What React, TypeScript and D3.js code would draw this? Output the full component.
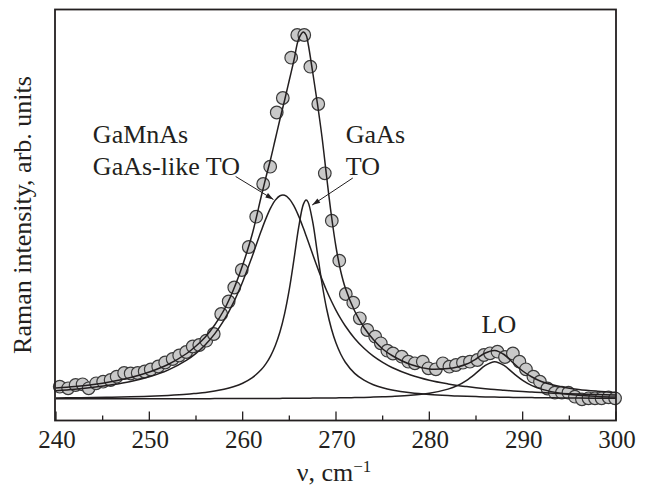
import React from 'react';
import * as d3 from 'd3';

const W = 648;
const H = 487;
const margin = { top: 9.5, right: 32, bottom: 66.5, left: 56 };
const FONT = '"Liberation Serif", "Times New Roman", serif';
const INK = '#231f20';

// measured spectrum (wavenumber, intensity above the common baseline)
const measured = [
  [240.4, 12.3], [241.3, 10.7], [242.1, 14.0], [242.85, 14.7], [243.5, 10.7], [244.3, 15.7],
  [245.05, 17.3], [245.85, 19.0], [246.5, 22.3], [247.3, 26.0], [248.0, 25.5], [248.75, 26.0],
  [249.5, 27.5], [250.15, 29.5], [250.95, 32.5], [251.7, 36.5], [252.5, 40.0], [253.2, 43.5],
  [253.95, 47.0], [254.65, 52.5], [255.35, 54.0], [256.1, 58.3], [256.9, 65.0], [257.7, 85.0],
  [258.5, 97.5], [259.1, 111.5], [259.9, 129.0], [260.65, 152.0], [261.45, 182.3], [262.2, 215.0],
  [262.95, 232.3], [263.65, 286.5], [264.3, 301.0], [265.2, 341.3], [265.85, 364.0], [266.6, 364.0],
  [267.25, 332.3], [268.1, 295.0], [268.8, 225.7], [269.55, 178.3], [270.35, 138.3], [271.05, 105.0],
  [271.85, 96.3], [272.55, 80.7], [273.35, 69.0], [274.2, 62.3], [274.8, 55.7], [275.5, 48.3],
  [276.1, 45.5], [277.05, 42.3], [277.75, 37.3], [278.45, 35.7], [279.3, 37.3], [279.9, 30.7],
  [280.7, 29.7], [281.45, 35.7], [282.15, 32.3], [282.85, 34.0], [283.6, 36.3], [284.35, 37.3],
  [285.15, 39.0], [285.85, 44.0], [286.5, 45.7], [287.3, 47.3], [288.1, 42.0], [288.95, 45.5],
  [289.65, 37.3], [290.35, 29.7], [291.15, 22.3], [291.85, 17.3], [292.65, 10.5], [293.45, 6.3],
  [294.2, 6.3], [294.9, 6.3], [295.6, 2.3], [296.35, -0.3], [297.05, 0.7], [297.75, 0.7],
  [298.45, 0.7], [299.2, 1.7], [299.9, 0.7],
];

// wavenumber grid the fitted curves were read on
const fitGrid = [
  240, 242, 244, 246, 248, 250, 252, 254, 255, 256, 257, 258, 259, 260, 261, 262, 262.5, 263,
  263.5, 264, 264.5, 265, 265.5, 266, 266.5, 266.8, 267, 267.5, 268, 268.5, 269, 269.5, 270,
  270.5, 271, 272, 273, 274, 275, 276, 278, 280, 282, 283, 284, 285, 286, 287, 288, 289, 290,
  291, 292, 294, 296, 298, 300,
];

const fitTotal = [
  11.0, 12.5, 14.5, 17.5, 21.5, 27.0, 34.5, 45.5, 53.0, 62.0, 74.0, 89.0, 109.0, 134.0, 164.0,
  203.0, 222.0, 240.0, 260.0, 280.0, 299.0, 319.0, 339.0, 360.0, 367.0, 364.0, 356.0, 327.0,
  296.0, 262.0, 222.0, 184.0, 152.0, 128.0, 111.0, 88.0, 71.5, 59.5, 50.0, 43.5, 34.5, 30.0,
  30.5, 32.0, 35.0, 40.0, 46.0, 48.5, 44.5, 36.0, 28.0, 22.0, 17.5, 12.5, 9.6, 7.8, 6.5,
];

// GaMnAs GaAs-like TO component
const gamnasTO = [
  8.3, 9.8, 11.7, 14.2, 17.5, 22.2, 28.9, 38.9, 45.7, 54.3, 65.1, 78.8, 96.1, 117.3, 142.1,
  168.4, 180.6, 191.1, 198.9, 203.3, 203.7, 200.1, 192.9, 182.9, 170.9, 163.2, 157.9, 144.7,
  131.8, 119.6, 108.3, 98.0, 88.7, 80.4, 73.0, 60.5, 50.7, 42.8, 36.6, 31.5, 24.0, 18.8, 15.1,
  13.6, 12.4, 11.3, 10.3, 9.4, 8.7, 8.0, 7.4, 6.9, 6.4, 5.6, 5.0, 4.4, 3.9,
];

// GaAs TO component
const gaasTO = [
  1.1, 1.3, 1.5, 1.8, 2.2, 2.8, 3.6, 4.7, 5.6, 6.6, 8.0, 9.8, 12.3, 15.8, 21.1, 29.4, 35.4,
  43.2, 53.5, 67.2, 85.7, 109.9, 139.9, 171.6, 194.6, 199.0, 197.0, 177.3, 146.3, 115.5, 90.0,
  70.5, 55.9, 45.0, 36.8, 25.6, 18.8, 14.3, 11.2, 9.0, 6.2, 4.5, 3.4, 3.0, 2.7, 2.4, 2.1, 1.9,
  1.8, 1.6, 1.5, 1.4, 1.3, 1.1, 0.9, 0.8, 0.7,
];

// LO component
const loMode = [
  0.2, 0.2, 0.2, 0.2, 0.2, 0.2, 0.3, 0.3, 0.3, 0.3, 0.4, 0.4, 0.4, 0.5, 0.5, 0.5, 0.6, 0.6,
  0.6, 0.6, 0.7, 0.7, 0.7, 0.7, 0.8, 0.8, 0.8, 0.9, 0.9, 1.0, 1.0, 1.1, 1.1, 1.2, 1.3, 1.4,
  1.6, 1.9, 2.2, 2.6, 3.7, 5.8, 9.9, 13.4, 18.7, 25.8, 33.6, 37.3, 33.6, 25.8, 18.7, 13.4, 9.9,
  5.8, 3.7, 2.6, 1.9,
];

const majorTicks = [240, 250, 260, 270, 280, 290, 300];
const minorTicks = [245, 255, 265, 275, 285, 295];

// labels: text, wavenumber, intensity (baseline position)
const labels = [
  { text: 'GaMnAs', x: 243.95, y: 255.7 },
  { text: 'GaAs-like TO', x: 243.95, y: 224 },
  { text: 'GaAs', x: 271.05, y: 255.7 },
  { text: 'TO', x: 271.05, y: 224 },
  { text: 'LO', x: 285.6, y: 65.7 },
];

// arrows: from (x1,y1) to tip (x2,y2)
const arrows = [
  { x1: 259.25, y1: 222.5, x2: 263.3, y2: 199.5 },
  { x1: 271.8, y1: 221, x2: 267.45, y2: 194 },
];

const App = () => {
  const x = d3.scaleLinear().domain([240, 300]).range([margin.left, W - margin.right]);
  const y = d3.scaleLinear().domain([-21.5, 389.5]).range([H - margin.bottom, margin.top]);

  const line = d3.line<number>()
    .x((_, i) => x(fitGrid[i]))
    .y(d => y(d))
    .curve(d3.curveCatmullRom);

  const x0 = x(240) - 1;
  const x1 = x(300);
  const yb = y(-21.5);
  const yt = y(389.5);

  const arrowHead = (a) => {
    const ax = x(a.x2), ay = y(a.y2);
    const dx = ax - x(a.x1), dy = ay - y(a.y1);
    const len = Math.sqrt(dx * dx + dy * dy);
    const ux = dx / len, uy = dy / len;
    const L = 8, hw = 2.6;
    const bx = ax - ux * L, by = ay - uy * L;
    return `M${ax},${ay}L${bx - uy * hw},${by + ux * hw}L${bx + uy * hw},${by - ux * hw}Z`;
  };

  return (
    <svg width={W} height={H} style={{ position: 'absolute', left: 0, top: 0, background: '#fff' }}
      fontFamily={FONT}>
      {/* data points */}
      <g>
        {measured.map((p, i) => (
          <circle key={i} cx={x(p[0])} cy={y(p[1])} r={6.3}
            fill="#c9c9c9" stroke="#3a3a3a" strokeWidth={1.2} />
        ))}
      </g>

      {/* fitted curves */}
      <g fill="none" stroke={INK} strokeWidth={1.5}>
        <path d={line(loMode)} />
        <path d={line(gaasTO)} />
        <path d={line(gamnasTO)} />
        <path d={line(fitTotal)} />
      </g>

      {/* frame */}
      <rect x={x0} y={yt} width={x1 - x0} height={yb - yt} fill="none" stroke={INK} strokeWidth={1.8} />

      {/* ticks */}
      <g stroke={INK} strokeWidth={1.3}>
        {majorTicks.map(t => (
          <line key={'M' + t} x1={x(t)} x2={x(t)} y1={yb} y2={yb - 9} />
        ))}
        {minorTicks.map(t => (
          <line key={'m' + t} x1={x(t)} x2={x(t)} y1={yb} y2={yb - 5} />
        ))}
      </g>
      <g fontSize={25} fill={INK} textAnchor="middle">
        {majorTicks.map(t => (
          <text key={t} x={x(t) + 1} y={448}>{t}</text>
        ))}
      </g>

      {/* axis titles */}
      <text x={334} y={481} fontSize={26} fill={INK} textAnchor="middle">
        <tspan>ν, cm</tspan>
        <tspan fontSize={17} dy={-9}>−1</tspan>
      </text>
      <text transform={`translate(31,${(yt + yb) / 2}) rotate(-90)`} fontSize={26} fill={INK}
        textAnchor="middle">Raman intensity, arb. units</text>

      {/* annotations */}
      <g fontSize={26} fill={INK}>
        {labels.map(l => (
          <text key={l.text} x={x(l.x)} y={y(l.y)}>{l.text}</text>
        ))}
      </g>
      <g>
        {arrows.map((a, i) => (
          <g key={i}>
            <line x1={x(a.x1)} y1={y(a.y1)} x2={x(a.x2)} y2={y(a.y2)} stroke={INK} strokeWidth={1} />
            <path d={arrowHead(a)} fill={INK} />
          </g>
        ))}
      </g>
    </svg>
  );
};

export default App;
